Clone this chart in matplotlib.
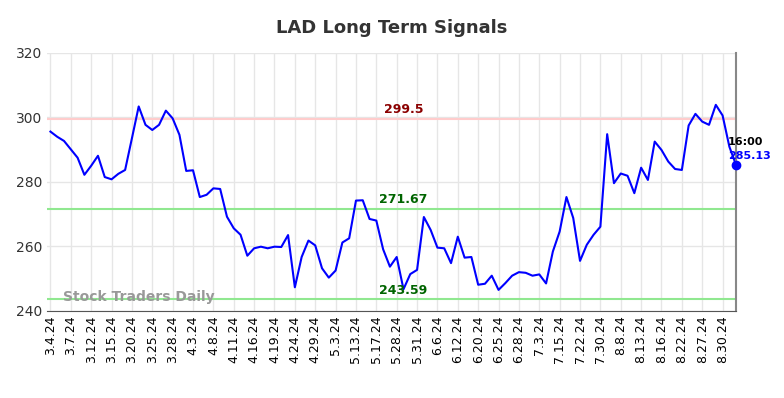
import numpy as np
import matplotlib.pyplot as plt

# Valores de cierre
prices = [295.6, 294.0, 292.7, 290.1, 287.5, 282.2, 285.0, 288.1, 281.5, 280.8,
          282.5, 283.7, 293.5, 303.4, 297.7, 296.1, 297.7, 302.1, 299.7, 294.6,
          283.4, 283.6, 275.3, 276.0, 278.0, 277.8, 269.2, 265.6, 263.6, 257.1,
          259.4, 259.9, 259.4, 259.9, 259.8, 263.5, 247.3, 256.7, 261.8, 260.3,
          253.2, 250.3, 252.5, 261.2, 262.5, 274.2, 274.3, 268.5, 268.0, 259.1,
          253.7, 256.7, 246.7, 251.4, 252.7, 269.1, 265.1, 259.6, 259.4, 254.8,
          263.0, 256.5, 256.7, 248.1, 248.4, 250.9, 246.5, 248.6, 250.9, 252.0,
          251.8, 250.9, 251.3, 248.5, 258.4, 264.6, 275.3, 268.8, 255.5, 260.5,
          263.6, 266.1, 294.8, 279.6, 282.6, 281.9, 276.5, 284.4, 280.6, 292.5,
          289.9, 286.3, 284.0, 283.7, 297.5, 301.1, 298.7, 297.7, 303.9, 300.6,
          290.9, 285.13]

tick_labels = ['3.4.24', '3.7.24', '3.12.24', '3.15.24', '3.20.24', '3.25.24',
               '3.28.24', '4.3.24', '4.8.24', '4.11.24', '4.16.24', '4.19.24',
               '4.24.24', '4.29.24', '5.3.24', '5.13.24', '5.17.24', '5.28.24',
               '5.31.24', '6.6.24', '6.12.24', '6.20.24', '6.25.24', '6.28.24',
               '7.3.24', '7.15.24', '7.22.24', '7.30.24', '8.8.24', '8.13.24',
               '8.16.24', '8.22.24', '8.27.24', '8.30.24']

upper = 299.5
mid = 271.67
lower = 243.59

x = np.arange(len(prices))

fig = plt.figure(figsize=(7.84, 3.98), dpi=100)
ax = fig.add_axes([0.06, 0.219, 0.879, 0.648])

ax.grid(True, color='#e6e6e6', linewidth=1)
ax.set_axisbelow(True)

ax.axhline(upper, color='#ffcccc', linewidth=1.5)
ax.axhline(mid, color='#90e890', linewidth=1.5)
ax.axhline(lower, color='#90e890', linewidth=1.5)

ax.plot(x, prices, color='blue', linewidth=1.5)
ax.plot(x[-1], prices[-1], 'o', color='blue', markersize=6, clip_on=False, zorder=5)

# Etiquetas de las lineas
xl = 52
ax.text(xl, upper + 0.8, '299.5', color='#8b0000', fontsize=9, fontweight='bold',
        ha='center', va='bottom')
ax.text(xl, mid + 0.8, '271.67', color='#006400', fontsize=9, fontweight='bold',
        ha='center', va='bottom')
ax.text(xl, lower + 0.8, '243.59', color='#006400', fontsize=9, fontweight='bold',
        ha='center', va='bottom')

ax.text(x[-1] - 1.2, prices[-1] + 5.6, '16:00', color='black', fontsize=8,
        fontweight='bold', ha='left', va='bottom')
ax.text(x[-1] - 1.2, prices[-1] + 1.3, '285.13', color='blue', fontsize=8,
        fontweight='bold', ha='left', va='bottom')

ax.text(1.8, 242.2, 'Stock Traders Daily', color='#999999', fontsize=10,
        fontweight='bold', ha='left', va='bottom')

ax.set_xlim(-0.5, x[-1])
ax.set_ylim(240, 320)
ax.set_yticks([240, 260, 280, 300, 320])
ax.set_xticks(x[::3][:len(tick_labels)])
ax.set_xticklabels(tick_labels, rotation=90, fontsize=9)
ax.tick_params(axis='y', labelsize=10, length=0, colors='#333333')
ax.tick_params(axis='x', length=0)

for s in ['top', 'left']:
    ax.spines[s].set_visible(False)
ax.spines['bottom'].set_color('#555555')
ax.spines['right'].set_color('#888888')
ax.spines['right'].set_linewidth(1.5)

ax.set_title('LAD Long Term Signals', fontsize=13, fontweight='bold',
             color='#333333', pad=14)

fig.savefig('out.png', dpi=100)
